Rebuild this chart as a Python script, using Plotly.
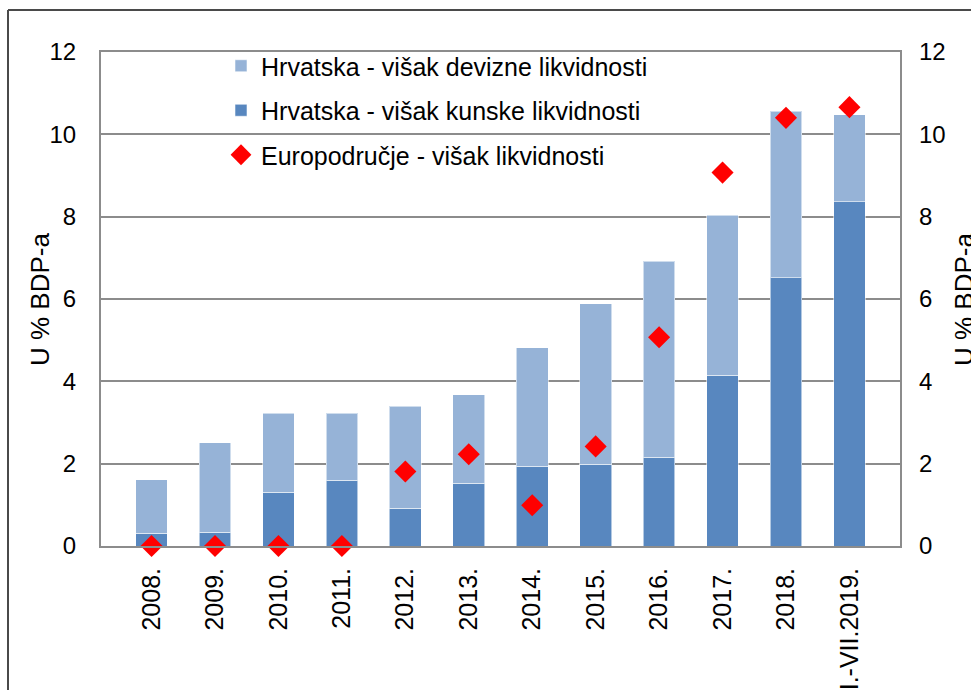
import plotly.graph_objects as go

categories = ["2008.", "2009.", "2010.", "2011.", "2012.", "2013.", "2014.",
              "2015.", "2016.", "2017.", "2018.", "I.-VII.2019."]
kunske = [0.31, 0.33, 1.30, 1.60, 0.92, 1.52, 1.94, 1.98, 2.16, 4.15, 6.52, 8.36]
ukupno = [1.61, 2.51, 3.23, 3.22, 3.40, 3.68, 4.81, 5.88, 6.92, 8.03, 10.56, 10.48]
devizne = [round(t - k, 2) for t, k in zip(ukupno, kunske)]
europodrucje = [0.0, 0.0, 0.0, 0.0, 1.81, 2.23, 0.99, 2.42, 5.07, 9.07, 10.40, 10.66]

y_ticks = [0, 2, 4, 6, 8, 10, 12]

W, H = 971, 690
L, R, T, B = 101, 900, 52, 546

def px(x):
    return (x - L) / (R - L)

def py(y):
    return (B - y) / (B - T)

FONT = "Liberation Sans, Arial, sans-serif"
GRID = "#8c8c8c"

fig = go.Figure()
fig.add_trace(go.Bar(
    x=categories, y=kunske, name="Hrvatska - višak kunske likvidnosti",
    marker=dict(color="#5887BF", line=dict(color="rgba(255,255,255,0.55)", width=1)),
    legendgroup="b", legendrank=2))
fig.add_trace(go.Bar(
    x=categories, y=devizne, name="Hrvatska - višak devizne likvidnosti",
    marker=dict(color="#96B3D7", line=dict(color="rgba(255,255,255,0.55)", width=1)),
    legendgroup="a", legendrank=1))
fig.add_trace(go.Scatter(
    x=categories, y=europodrucje, name="Europodručje - višak likvidnosti",
    mode="markers", marker=dict(symbol="diamond", size=17, color="#FF0000"),
    cliponaxis=False, legendgroup="c", legendrank=3))
# invisible trace to activate the right axis
fig.add_trace(go.Scatter(x=categories, y=europodrucje, yaxis="y2", mode="markers",
                         marker=dict(opacity=0), showlegend=False, hoverinfo="skip"))

fig.update_layout(
    width=W, height=H,
    margin=dict(l=L, r=W - R, t=T, b=H - B, autoexpand=False),
    paper_bgcolor="white", plot_bgcolor="white",
    barmode="stack", bargap=0.5,
    font=dict(family=FONT, color="black"),
    showlegend=True,
    legend=dict(x=px(221), y=py(43), xanchor="left", yanchor="top",
                font=dict(size=25, family=FONT), bgcolor="rgba(0,0,0,0)",
                traceorder="grouped", tracegroupgap=9, itemwidth=30),
    xaxis=dict(tickangle=-90, tickfont=dict(size=25), showgrid=False,
               showline=True, linecolor=GRID, linewidth=2, mirror=True,
               ticks="", ticklabelstandoff=10, automargin=False),
    yaxis=dict(range=[0, 12], tickvals=y_ticks, tickfont=dict(size=24),
               showgrid=True, gridcolor=GRID, gridwidth=2,
               showline=True, linecolor=GRID, linewidth=2, mirror=True,
               zeroline=False, ticks="", ticklabelstandoff=18, automargin=False),
    yaxis2=dict(range=[0, 12], tickvals=y_ticks, tickfont=dict(size=24),
                overlaying="y", side="right", showgrid=False, zeroline=False,
                showline=False, ticks="", ticklabelstandoff=18, automargin=False),
    annotations=[
        dict(text="U % BDP-a", x=px(40), y=py(300), xref="paper", yref="paper",
             showarrow=False, textangle=-90, font=dict(size=26, family=FONT),
             xanchor="center", yanchor="middle"),
        dict(text="U % BDP-a", x=px(964), y=py(300), xref="paper", yref="paper",
             showarrow=False, textangle=-90, font=dict(size=26, family=FONT),
             xanchor="center", yanchor="middle"),
    ],
    shapes=[
        dict(type="line", xref="paper", yref="paper", x0=px(8), x1=px(975),
             y0=py(10), y1=py(10), line=dict(color="#4a4a4a", width=2)),
        dict(type="line", xref="paper", yref="paper", x0=px(8), x1=px(8),
             y0=py(10), y1=py(700), line=dict(color="#4a4a4a", width=2)),
    ],
)

fig.write_html("out.html", config={"displayModeBar": False},
               post_script="document.body.style.margin='0';document.body.style.overflow='hidden';")
